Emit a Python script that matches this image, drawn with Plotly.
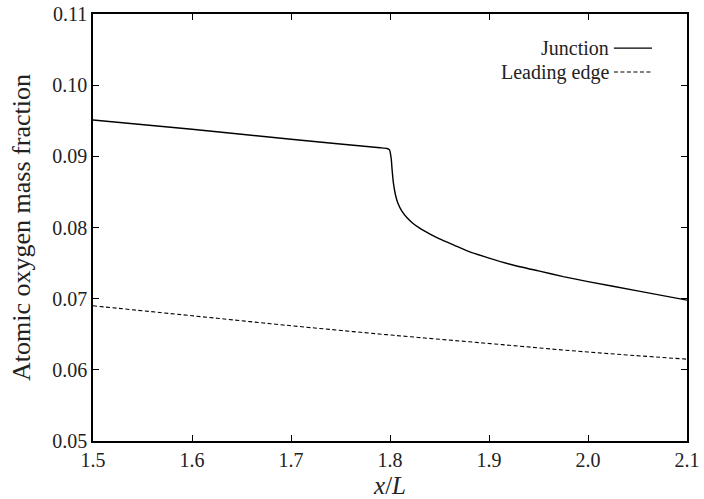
import plotly.graph_objects as go

# Atomic oxygen mass fraction along the wall, x/L
junction_x = [1.5, 1.6, 1.7, 1.79, 1.797, 1.7995, 1.8012, 1.8022, 1.8035, 1.8055, 1.808,
              1.812, 1.817, 1.823, 1.830, 1.840, 1.850, 1.865, 1.880, 1.900, 1.925,
              1.950, 1.975, 2.0, 2.05, 2.1]
junction_y = [0.0951, 0.0938, 0.0924, 0.0912, 0.0911, 0.0909, 0.0897, 0.0880, 0.0862, 0.0846, 0.0834,
              0.0823, 0.0814, 0.0806, 0.0799, 0.0791, 0.0784, 0.0775, 0.0766, 0.0757, 0.0747,
              0.0739, 0.0731, 0.0724, 0.0711, 0.0698]

leading_x = [1.5, 1.6, 1.7, 1.8, 1.9, 2.0, 2.1]
leading_y = [0.0690, 0.0676, 0.0662, 0.0649, 0.0637, 0.0625, 0.0615]

x_ticks = [1.5, 1.6, 1.7, 1.8, 1.9, 2.0, 2.1]
y_ticks = [0.05, 0.06, 0.07, 0.08, 0.09, 0.10, 0.11]

FONT = "Liberation Serif"
TEXT = "#222"

fig = go.Figure()
fig.add_trace(go.Scatter(x=junction_x, y=junction_y, mode="lines", name="Junction",
                         line=dict(color="black", width=1.4, shape="spline", smoothing=0.4),
                         showlegend=False))
fig.add_trace(go.Scatter(x=leading_x, y=leading_y, mode="lines", name="Leading edge",
                         line=dict(color="black", width=1.1, dash="4px,2.5px", shape="spline"),
                         showlegend=False))

# Legend: label text on the left, line sample on the right
legend_items = [("Junction", "solid", 1.4, 0.920), ("Leading edge", "4px,2.5px", 1.1, 0.864)]
for label, dash, w, yp in legend_items:
    fig.add_annotation(xref="paper", yref="paper", x=0.872, y=yp, text=label,
                       showarrow=False, xanchor="right", yanchor="middle",
                       font=dict(family=FONT, size=20, color=TEXT))
    fig.add_shape(type="line", xref="paper", yref="paper", x0=0.877, x1=0.941, y0=yp, y1=yp,
                  line=dict(color="black", width=w, dash=dash))

axis_common = dict(
    showline=True, linecolor="black", linewidth=1.5, mirror="ticks",
    ticks="inside", ticklen=6, tickwidth=1.2, tickcolor="black",
    showgrid=False, zeroline=False, automargin=False,
    tickfont=dict(family=FONT, size=20, color=TEXT),
)

fig.update_xaxes(range=[1.5, 2.1], tickvals=x_ticks, tickformat=".1f",
                 title=dict(text="<i>x</i>/<i>L</i>", standoff=8,
                            font=dict(family=FONT, size=25, color=TEXT)),
                 **axis_common)
fig.update_yaxes(range=[0.05, 0.11], tickvals=y_ticks, tickformat=".2f",
                 title=dict(text="Atomic oxygen mass fraction", standoff=14,
                            font=dict(family=FONT, size=26, color=TEXT)),
                 **axis_common)

fig.update_layout(width=704, height=499, margin=dict(l=93, r=17, t=14, b=58),
                  paper_bgcolor="white", plot_bgcolor="white",
                  font=dict(family=FONT, color=TEXT))

fig.write_html("out.html")
